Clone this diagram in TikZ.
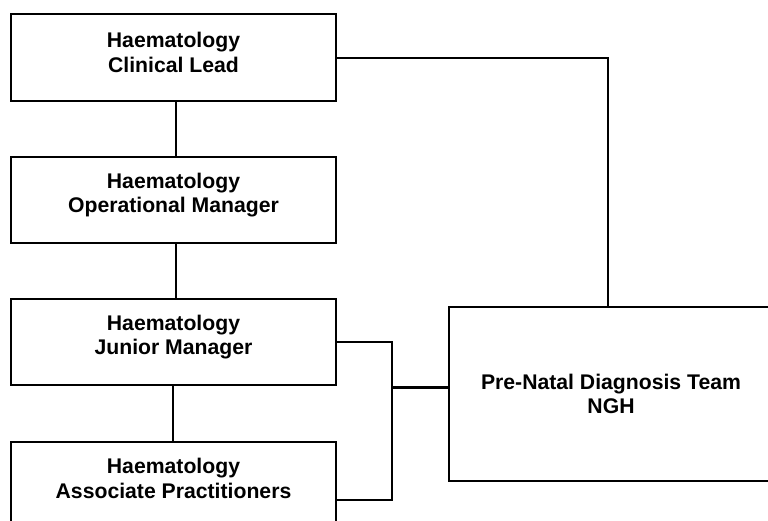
\documentclass[tikz,border=0pt]{standalone}
\usepackage{fontspec}
\setmainfont{Liberation Sans}
\begin{document}
\begin{tikzpicture}[x=1pt,y=-1pt,
  box/.style={draw, line width=2pt, inner sep=0pt, fill=white},
  lbl/.style={font=\bfseries\fontsize{21.2}{24.5}\selectfont, align=center, inner sep=0pt},
  conn/.style={line width=2pt}]
\useasboundingbox (0,0) rectangle (768,520);
\clip (0,0) rectangle (768,520);
\fill[white] (0,0) rectangle (768,520);
% boxes
\node[box, minimum width=325pt, minimum height=87pt] (b1) at (173.5,57.5) {};
\node[box, minimum width=325pt, minimum height=86pt] (b2) at (173.5,200) {};
\node[box, minimum width=325pt, minimum height=86pt] (b3) at (173.5,342) {};
\node[box, minimum width=325pt, minimum height=87pt] (b4) at (173.5,485.5) {};
\node[box, minimum width=324pt, minimum height=174pt] (b5) at (611,394) {};
% labels
\node[lbl] (t1) at (173.5,52.5) {Haematology\\Clinical Lead};
\node[lbl] (t2) at (173.5,195) {Haematology\\Operational Manager};
\node[lbl] (t3) at (173.5,337) {Haematology\\Junior Manager};
\node[lbl] (t4) at (173.5,478.5) {Haematology\\Associate Practitioners};
\node[lbl] (t5) at (611,394) {Pre-Natal Diagnosis Team\\NGH};
% connectors
\draw[conn] ([xshift=2.5pt]b1.south) -- ([xshift=2.5pt]b2.north);
\draw[conn] ([xshift=2.5pt]b2.south) -- ([xshift=2.5pt]b3.north);
\draw[conn] ([xshift=-0.5pt]b3.south) -- ([xshift=-0.5pt]b4.north);
\draw[conn] (b1.east) -| ([xshift=-3pt]b5.north);
\coordinate (j) at (392,387);
\draw[conn] (b3.east) -| (j);
\draw[conn] ([yshift=-14.5pt]b4.east) -| (j);
\draw[conn, line width=3pt] (j) -- (j -| b5.west);
\end{tikzpicture}
\end{document}
